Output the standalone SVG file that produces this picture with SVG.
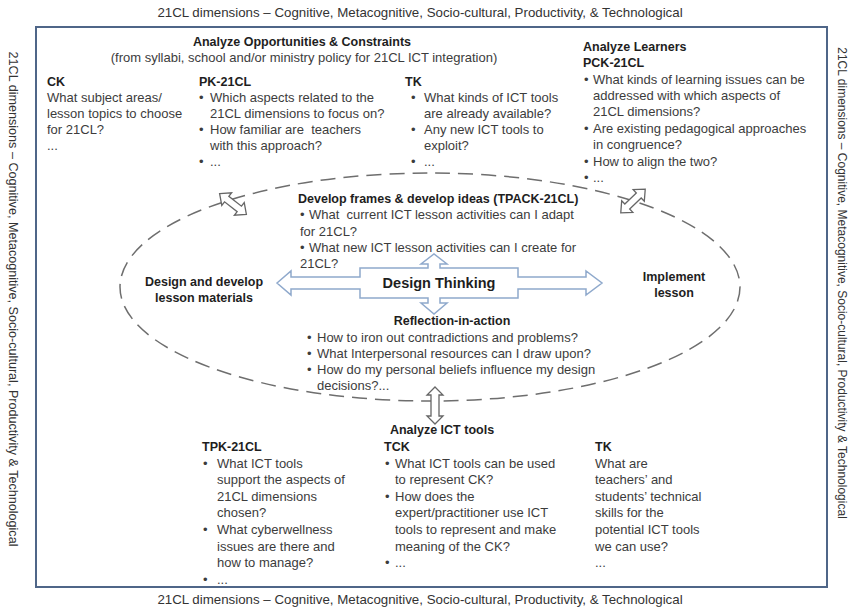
<svg xmlns="http://www.w3.org/2000/svg" width="849" height="611" viewBox="0 0 849 611">
<style>
text{font-family:"Liberation Sans",Arial,sans-serif;fill:#3c3c3c;font-size:13px}
.h{font-weight:bold;font-size:12.5px;fill:#1e1e1e}
.dim{font-size:13.3px;fill:#333}
.side{font-size:12.6px;fill:#333}
.c{text-anchor:middle}
.frame{fill:none;stroke:#4f6688;stroke-width:2}
.cycle{fill:none;stroke:#6e6e6e;stroke-width:1.5;stroke-dasharray:15 8}
.dbl{fill:#fff;stroke:#666;stroke-width:1.3}
.cross{fill:#fff;stroke:#8fa9cc;stroke-width:1.5}
.dt{font-weight:bold;font-size:14.5px;fill:#1e1e1e}
</style>
<defs>
<path id="diag" class="dbl" d="M-17,0 L-8,-8 L-8,-3.5 L8,-3.5 L8,-8 L17,0 L8,8 L8,3.5 L-8,3.5 L-8,8 Z"/>
</defs>
<rect width="849" height="611" fill="#fff"/>
<g id="frame"><rect class="frame" x="36" y="27" width="791" height="560"/></g>
<g id="dimensions">
<text class="dim c" x="420" y="17">21CL dimensions – Cognitive, Metacognitive, Socio-cultural, Productivity, &amp; Technological</text>
<text class="dim c" x="420" y="604">21CL dimensions – Cognitive, Metacognitive, Socio-cultural, Productivity, &amp; Technological</text>
<text class="side c" transform="translate(9,299) rotate(90)">21CL dimensions – Cognitive, Metacognitive, Socio-cultural, Productivity &amp; Technological</text>
<text class="side c" style="font-size:12px" transform="translate(838,283) rotate(90)">21CL dimensions – Cognitive, Metacognitive, Socio-cultural, Productivity &amp; Technological</text>
</g>
<g id="cycle"><ellipse class="cycle" cx="430" cy="287" rx="310" ry="114"/></g>
<g id="design-thinking">
<polygon class="cross" points="277,283 291,271 291,277 360,277 360,268 428,268 428,264 421,264 434,254 447,264 440,264 440,268 518,268 518,277 586,277 586,271 602,283 586,295 586,289 518,289 518,298 440,298 440,303 447,303 434,314 421,303 428,303 428,298 360,298 360,289 291,289 291,295"/>
<text class="dt c" x="439" y="288">Design Thinking</text>
</g>
<g id="connectors">
<use href="#diag" transform="translate(233,204) rotate(38)"/>
<use href="#diag" transform="translate(633,201) rotate(-44)"/>
<path class="dbl" d="M435,387 L443,395 L439,395 L439,416 L443,416 L435,424 L427,416 L431,416 L431,395 L427,395 Z"/>
</g>
<g id="opportunities">
<text class="h c" x="302" y="46">Analyze Opportunities &amp; Constraints</text>
<text class="c" x="304" y="62">(from syllabi, school and/or ministry policy for 21CL ICT integration)</text>
</g>
<g id="ck">
<text class="h" x="47" y="86">CK</text>
<text x="47" y="102">What subject areas/</text>
<text x="47" y="118">lesson topics to choose</text>
<text x="47" y="134">for 21CL?</text>
<text x="47" y="150">...</text>
</g>
<g id="pk-21cl">
<text class="h" x="199" y="86">PK-21CL</text>
<text x="199" y="102">•</text><text x="210" y="102">Which aspects related to the</text>
<text x="210" y="118">21CL dimensions to focus on?</text>
<text x="199" y="134">•</text><text x="210" y="134" xml:space="preserve">How familiar are  teachers</text>
<text x="210" y="150">with this approach?</text>
<text x="199" y="166">•</text><text x="210" y="166">...</text>
</g>
<g id="tk-top">
<text class="h" x="405" y="86">TK</text>
<text x="411" y="102">•</text><text x="424" y="102">What kinds of ICT tools</text>
<text x="424" y="118">are already available?</text>
<text x="411" y="134">•</text><text x="424" y="134">Any new ICT tools to</text>
<text x="424" y="150">exploit?</text>
<text x="411" y="166">•</text><text x="424" y="166">...</text>
</g>
<g id="learners">
<text class="h" x="583" y="51">Analyze Learners</text>
<text class="h" x="583" y="67">PCK-21CL</text>
<text x="584" y="84">•</text><text x="593" y="84">What kinds of learning issues can be</text>
<text x="593" y="100">addressed with which aspects of</text>
<text x="593" y="116">21CL dimensions?</text>
<text x="584" y="133">•</text><text x="593" y="133">Are existing pedagogical approaches</text>
<text x="593" y="149">in congruence?</text>
<text x="584" y="166">•</text><text x="593" y="166">How to align the two?</text>
<text x="584" y="182">•</text><text x="593" y="182">...</text>
</g>
<g id="tpack">
<text class="h" x="298" y="203">Develop frames &amp; develop ideas (TPACK-21CL)</text>
<text x="300" y="219">•</text><text x="309" y="219" xml:space="preserve">What  current ICT lesson activities can I adapt</text>
<text x="300" y="236">for 21CL?</text>
<text x="300" y="252">•</text><text x="309" y="252">What new ICT lesson activities can I create for</text>
<text x="300" y="268">21CL?</text>
</g>
<g id="design-develop">
<text class="h c" x="204" y="286">Design and develop</text>
<text class="h c" x="204" y="302">lesson materials</text>
</g>
<g id="implement">
<text class="h c" x="674" y="281">Implement</text>
<text class="h c" x="674" y="297">lesson</text>
</g>
<g id="reflection">
<text class="h c" x="452" y="325">Reflection-in-action</text>
<text x="307" y="342">•</text><text x="317" y="342">How to iron out contradictions and problems?</text>
<text x="307" y="358">•</text><text x="317" y="358">What Interpersonal resources can I draw upon?</text>
<text x="307" y="374">•</text><text x="317" y="374">How do my personal beliefs influence my design</text>
<text x="317" y="390">decisions?...</text>
</g>
<g id="ict-tools">
<text class="h c" x="442" y="434">Analyze ICT tools</text>
</g>
<g id="tpk-21cl">
<text class="h" x="202" y="451">TPK-21CL</text>
<text x="203" y="468">•</text><text x="217" y="468">What ICT tools</text>
<text x="217" y="484">support the aspects of</text>
<text x="217" y="501">21CL dimensions</text>
<text x="217" y="517">chosen?</text>
<text x="203" y="534">•</text><text x="217" y="534">What cyberwellness</text>
<text x="217" y="551">issues are there and</text>
<text x="217" y="567">how to manage?</text>
<text x="203" y="584">•</text><text x="217" y="584">...</text>
</g>
<g id="tck">
<text class="h" x="384" y="451">TCK</text>
<text x="385" y="468">•</text><text x="395" y="468">What ICT tools can be used</text>
<text x="395" y="484">to represent CK?</text>
<text x="385" y="501">•</text><text x="395" y="501">How does the</text>
<text x="395" y="517">expert/practitioner use ICT</text>
<text x="395" y="534">tools to represent and make</text>
<text x="395" y="551">meaning of the CK?</text>
<text x="385" y="567">•</text><text x="395" y="567">...</text>
</g>
<g id="tk-bottom">
<text class="h" x="595" y="451">TK</text>
<text x="595" y="468">What are</text>
<text x="595" y="484">teachers’ and</text>
<text x="595" y="501">students’ technical</text>
<text x="595" y="517">skills for the</text>
<text x="595" y="534">potential ICT tools</text>
<text x="595" y="551">we can use?</text>
<text x="595" y="567">...</text>
</g>
</svg>
